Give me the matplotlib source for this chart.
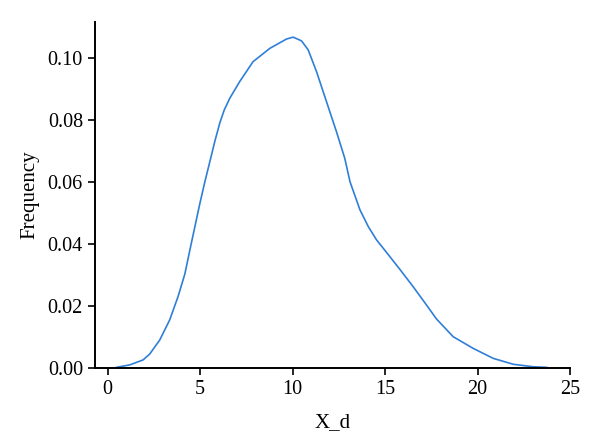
import matplotlib
matplotlib.use("Agg")
import matplotlib.pyplot as plt

# density curve
x_d = [0.47, 1.19, 1.91, 2.27, 2.81, 3.35, 3.80, 4.17, 4.44, 4.71, 4.98, 5.25,
       5.52, 5.8, 6.06, 6.3, 6.60, 7.14, 7.86, 8.77, 9.67, 10.03, 10.48, 10.84,
       11.29, 11.83, 12.37, 12.82, 13.1, 13.64, 14.1, 14.54, 15.26, 15.8, 16.52,
       17.24, 17.78, 18.68, 19.77, 20.85, 21.93, 23.0, 23.74]
freq = [0.0002, 0.001, 0.0026, 0.0045, 0.009, 0.0155, 0.023, 0.0303, 0.0380,
        0.0455, 0.0530, 0.0600, 0.0665, 0.0733, 0.0790, 0.0832, 0.087, 0.0924,
        0.0988, 0.1031, 0.1061, 0.1067, 0.1055, 0.1026, 0.0956, 0.0859, 0.0762,
        0.0676, 0.0601, 0.051, 0.0455, 0.0413, 0.0359, 0.0318, 0.0262, 0.0203,
        0.0158, 0.0101, 0.0063, 0.0031, 0.0012, 0.0004, 0.0002]

xticks = [0, 5, 10, 15, 20, 25]
yticks = [0.00, 0.02, 0.04, 0.06, 0.08, 0.10]

plt.rcParams['font.family'] = ['Liberation Serif', 'DejaVu Serif']

fig = plt.figure(figsize=(6, 4.48), dpi=100)
ax = fig.add_axes([0.158, 0.1786, 0.792, 0.7724])
ax.plot(x_d, freq, color='#2f7ed8', lw=1.2)

ax.set_xlim(-0.7, 25)
ax.set_ylim(0, 0.1116)
ax.set_xticks(xticks)
ax.set_yticks(yticks)
ax.set_yticklabels([f'{v:.2f}' for v in yticks])
ax.spines['top'].set_visible(False)
ax.spines['right'].set_visible(False)
for s in ('left', 'bottom'):
    ax.spines[s].set_linewidth(1.4)
ax.tick_params(labelsize=14.5, length=5, width=1.2)
ax.set_xlabel('X_d', fontsize=15, labelpad=10)
ax.set_ylabel('Frequency', fontsize=15, labelpad=6)

fig.savefig('out.png', dpi=100)
